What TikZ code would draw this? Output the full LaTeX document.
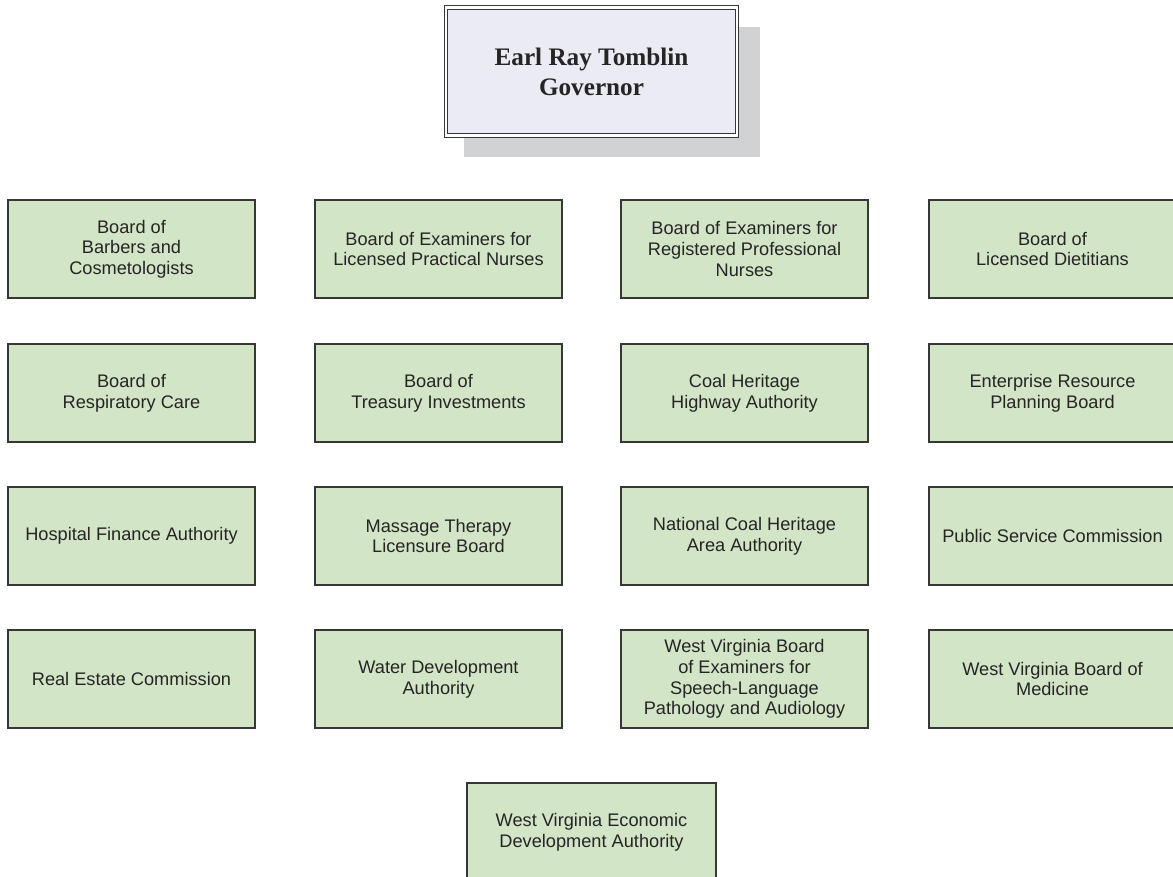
\documentclass[tikz,border=0pt]{standalone}
\usepackage{fontspec}
\setmainfont{Liberation Serif}
\newfontfamily\arialfont{Liberation Sans}
\definecolor{boxgreen}{RGB}{210,229,198}
\definecolor{boxline}{RGB}{55,55,55}
\definecolor{txt}{RGB}{38,36,37}
\definecolor{govfill}{RGB}{235,235,244}
\definecolor{shadowgray}{RGB}{209,210,212}
\begin{document}
\begin{tikzpicture}[x=1pt,y=-1pt,
  unit/.style={draw=boxline, line width=1.2pt, fill=boxgreen, text=txt,
    minimum width=247pt, minimum height=98pt, inner sep=0pt, align=center,
    font=\arialfont\fontsize{18.2}{20.6}\selectfont},
  govbox/.style={draw=boxline, line width=1.2pt, double=white, double distance=2.4pt,
    fill=govfill, text=txt, minimum width=291pt, minimum height=128pt, inner sep=0pt,
    align=center, font=\bfseries\fontsize{25.2}{30}\selectfont}]
\useasboundingbox (0,0) rectangle (1173,877);
\clip (0,0) rectangle (1173,877);
% shadow
\fill[shadowgray] (464,27) rectangle (760,157);
\node[govbox] (gov) at (591.5,71.5) {Earl Ray Tomblin\\Governor};
% row 1
\node[unit] (b11) at (131.5,249) {Board of\\Barbers and\\Cosmetologists};
\node[unit] (b12) at (438.5,249) {Board of Examiners for\\Licensed Practical Nurses};
\node[unit] (b13) at (744.5,249) {Board of Examiners for\\Registered Professional\\Nurses};
\node[unit] (b14) at (1052.5,249) {Board of\\Licensed Dietitians};
% row 2
\node[unit] (b21) at (131.5,393) {Board of\\Respiratory Care};
\node[unit] (b22) at (438.5,393) {Board of\\Treasury Investments};
\node[unit] (b23) at (744.5,393) {Coal Heritage\\Highway Authority};
\node[unit] (b24) at (1052.5,393) {Enterprise Resource\\Planning Board};
% row 3
\node[unit] (b31) at (131.5,536) {Hospital Finance Authority};
\node[unit] (b32) at (438.5,536) {Massage Therapy\\Licensure Board};
\node[unit] (b33) at (744.5,536) {National Coal Heritage\\Area Authority};
\node[unit] (b34) at (1052.5,536) {Public Service Commission};
% row 4
\node[unit] (b41) at (131.5,679) {Real Estate Commission};
\node[unit] (b42) at (438.5,679) {Water Development\\Authority};
\node[unit] (b43) at (744.5,679) {West Virginia Board\\of Examiners for\\Speech-Language\\Pathology and Audiology};
\node[unit] (b44) at (1052.5,679) {West Virginia Board of\\Medicine};
% row 5
\node[unit, minimum width=249pt] (b51) at (591.5,832) {West Virginia Economic\\Development Authority};
\end{tikzpicture}
\end{document}
